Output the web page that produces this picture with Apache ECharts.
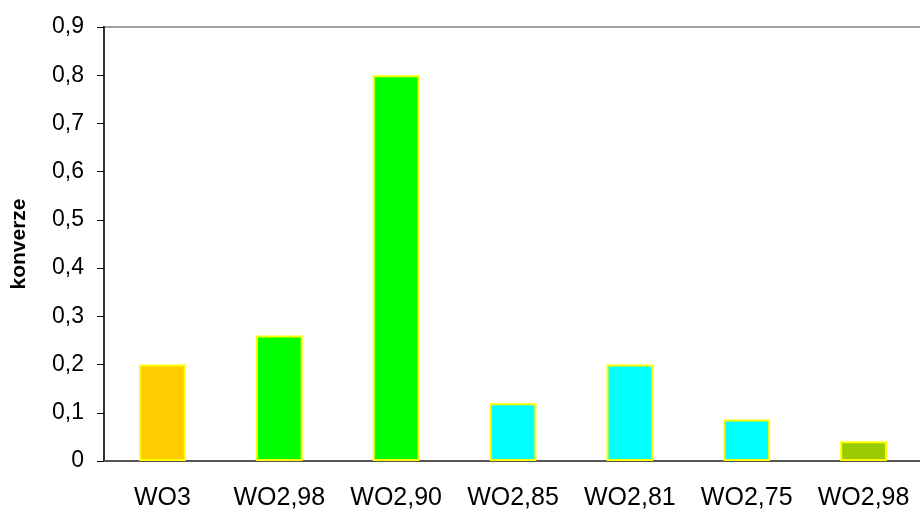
<!DOCTYPE html>
<html><head><meta charset="utf-8">
<script src="https://cdn.jsdelivr.net/npm/echarts@6/dist/echarts.min.js"></script>
<style>html,body{margin:0;padding:0;background:#fff}#c{width:920px;height:509px}</style>
</head><body><div id="c"></div>
<script>
const categories = ['WO3','WO2,98','WO2,90','WO2,85','WO2,81','WO2,75','WO2,98'];
const values = [0.2, 0.26, 0.8, 0.12, 0.2, 0.086, 0.041];
const barColors = ['#ffcc00','#00ff00','#00ff00','#00ffff','#00ffff','#00ffff','#99cc00'];
const yTicks = [0,0.1,0.2,0.3,0.4,0.5,0.6,0.7,0.8,0.9];
const yTickLabels = ['0','0,1','0,2','0,3','0,4','0,5','0,6','0,7','0,8','0,9'];

const chart = echarts.init(document.getElementById('c'));
chart.setOption({
  animation:false,
  grid:{left:104,right:-2,top:27,bottom:48,outerBoundsMode:'none',containLabel:false,show:true,borderColor:'#a0a0a0',borderWidth:2,backgroundColor:'transparent'},
  xAxis:{type:'category',data:categories,
    axisLine:{lineStyle:{color:'#555',width:2}},
    axisTick:{length:6,lineStyle:{color:'#555',width:1.5}},
    axisLabel:{interval:0,hideOverlap:false,color:'#000',fontFamily:'Liberation Sans, Arial',fontSize:25,margin:25}},
  yAxis:{type:'value',min:0,max:0.9,interval:0.1,
    name:'konverze',nameLocation:'middle',nameGap:74,
    nameTextStyle:{fontFamily:'Liberation Sans, Arial',fontWeight:'bold',fontSize:21,color:'#000'},
    axisLine:{show:true,lineStyle:{color:'#333',width:2}},
    axisTick:{show:true,length:7,lineStyle:{color:'#000'}},
    splitLine:{show:false},
    axisLabel:{color:'#000',fontFamily:'Liberation Sans, Arial',fontSize:23,margin:20,
      formatter:v=>{const i=yTicks.findIndex(x=>Math.abs(x-v)<1e-9);return i<0?String(v):yTickLabels[i];}}},
  series:[{type:'bar',barWidth:'40%',
    data:values.map((v,i)=>({value:v,itemStyle:{color:barColors[i]}})),
    itemStyle:{borderColor:'#ffff00',borderWidth:2}}]
});
</script></body></html>
